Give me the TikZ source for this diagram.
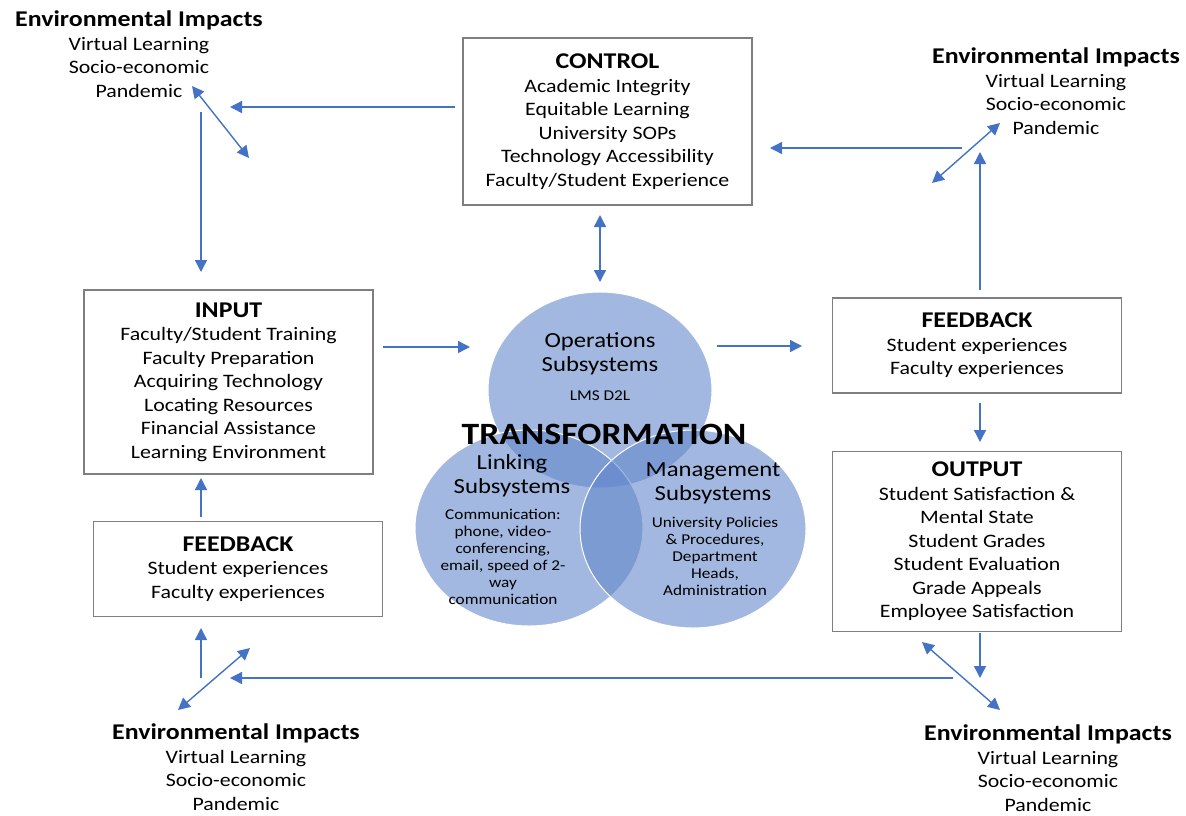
\documentclass[tikz,border=0pt]{standalone}
\usepackage{fontspec}
\setmainfont{Carlito}[FakeStretch=1.15]
\usepackage{tikz}
\usetikzlibrary{shapes, arrows.meta, positioning, calc}
\definecolor{flowblue}{RGB}{68,114,196}
\definecolor{boxgray}{RGB}{127,127,127}
\definecolor{subfill}{RGB}{96,133,202}
\newcommand{\heading}[1]{{\fontsize{22.5}{25}\selectfont\bfseries #1}}
\tikzstyle{block} = [rectangle, draw=boxgray, line width=1.2pt, minimum width=289pt, align=center, font=\fontsize{19}{23.5}\selectfont]
\tikzstyle{impact} = [align=center, font=\fontsize{19}{23.5}\selectfont]
\tikzstyle{subsystem} = [ellipse, draw=white, line width=1pt, fill=subfill, fill opacity=0.58, minimum width=226pt, minimum height=196pt]
\tikzstyle{subtitle} = [align=center, font=\fontsize{21.5}{24}\selectfont]
\tikzstyle{subtext} = [align=center, font=\fontsize{15}{17}\selectfont]
\tikzstyle{arrow} = [draw=flowblue, line width=1.4pt, -{Triangle[length=12pt,width=12pt]}]
\tikzstyle{twoway} = [arrow, {Triangle[length=12pt,width=12pt]}-{Triangle[length=12pt,width=12pt]}]

\begin{document}
\begin{tikzpicture}[x=1pt, y=-1pt]
    \useasboundingbox (0,0) rectangle (1186,815);

    % Boxes
    \node (control) [block, minimum height=167pt] at (607.5,121.5) {\heading{CONTROL}\\ Academic Integrity\\ Equitable Learning\\ University SOPs\\ Technology Accessibility\\ Faculty/Student Experience};
    \node (input) [block, minimum height=184pt] at (228.5,382) {\heading{INPUT}\\ Faculty/Student Training\\ Faculty Preparation\\ Acquiring Technology\\ Locating Resources\\ Financial Assistance\\ Learning Environment};
    \node (fbleft) [block, minimum height=95pt, below=46pt of input, xshift=9.5pt] {\heading{FEEDBACK}\\ Student experiences\\ Faculty experiences};
    \node (fbright) [block, minimum height=95pt] at (977,345.5) {\heading{FEEDBACK}\\ Student experiences\\ Faculty experiences};
    \node (output) [block, minimum height=180pt, below=57pt of fbright] {\heading{OUTPUT}\\ Student Satisfaction \&\\ Mental State\\ Student Grades\\ Student Evaluation\\ Grade Appeals\\ Employee Satisfaction};

    % Environmental impacts
    \node (envtl) [impact] at (139,54) {\heading{Environmental Impacts}\\ Virtual Learning\\ Socio-economic\\ Pandemic};
    \node (envtr) [impact] at (1056,91) {\heading{Environmental Impacts}\\ Virtual Learning\\ Socio-economic\\ Pandemic};
    \node (envbl) [impact] at (236,767) {\heading{Environmental Impacts}\\ Virtual Learning\\ Socio-economic\\ Pandemic};
    \node (envbr) [impact] at (1048,768) {\heading{Environmental Impacts}\\ Virtual Learning\\ Socio-economic\\ Pandemic};

    % Transformation subsystems
    \node (ops) [subsystem, minimum width=224pt] at (600,390) {};
    \node (link) [subsystem, minimum width=228pt] at (529,528) {};
    \node (mgmt) [subsystem, minimum height=198pt] at (693,529) {};

    \node (opstitle) [subtitle] at (600,354) {Operations\\ Subsystems};
    \node (opstext) [subtext] at (600,396) {LMS D2L};
    \node (linktitle) [subtitle] at (512,476) {Linking\\ Subsystems};
    \node (linktext) [subtext] at (503,556.5) {Communication:\\ phone, video-\\ conferencing,\\ email, speed of 2-\\ way\\ communication};
    \node (mgmttitle) [subtitle] at (713,483) {Management\\ Subsystems};
    \node (mgmttext) [subtext] at (715,556) {University Policies\\ \& Procedures,\\ Department\\ Heads,\\ Administration};
    \node (transform) [font=\fontsize{31}{33}\selectfont\bfseries] at (604,434) {TRANSFORMATION};

    % Arrow ends
    \coordinate (tlin) at (230,107);
    \coordinate (ctrlout) at (455,107);
    \coordinate (tlup) at (192,86);
    \coordinate (tldown) at (249,158);
    \coordinate (tlfrom) at (201,112);
    \coordinate (inputin) at (201,272);
    \coordinate (ctrlbot) at (600,215);
    \coordinate (opstop) at (600,282);
    \coordinate (inputout) at (383,347);
    \coordinate (opsin) at (470,347);
    \coordinate (opsout) at (717,346);
    \coordinate (fbrin) at (802,346);
    \coordinate (fbrout) at (980,290);
    \coordinate (trin) at (980,152);
    \coordinate (trout) at (962,148);
    \coordinate (ctrlin) at (770,148);
    \coordinate (trdown) at (932,183);
    \coordinate (trup) at (1000,123);
    \coordinate (fbrbot) at (980,403);
    \coordinate (outtop) at (980,442);
    \coordinate (outbot) at (980,633);
    \coordinate (brin) at (980,678);
    \coordinate (brup) at (922,642);
    \coordinate (brdown) at (1000,710);
    \coordinate (brout) at (953,678);
    \coordinate (blin) at (230,678);
    \coordinate (bldown) at (178,710);
    \coordinate (blup) at (250,648);
    \coordinate (blfrom) at (201,678);
    \coordinate (fblbot) at (201,628);
    \coordinate (fbltop) at (201,517);
    \coordinate (inputbot) at (201,478);

    \draw [arrow] (ctrlout) -- (tlin);
    \draw [twoway] (tlup) -- (tldown);
    \draw [arrow] (tlfrom) -- (inputin);
    \draw [twoway] (ctrlbot) -- (opstop);
    \draw [arrow] (inputout) -- (opsin);
    \draw [arrow] (opsout) -- (fbrin);
    \draw [arrow] (fbrout) -- (trin);
    \draw [arrow] (trout) -- (ctrlin);
    \draw [twoway] (trdown) -- (trup);
    \draw [arrow] (fbrbot) -- (outtop);
    \draw [arrow] (outbot) -- (brin);
    \draw [twoway] (brup) -- (brdown);
    \draw [arrow] (brout) -- (blin);
    \draw [twoway] (bldown) -- (blup);
    \draw [arrow] (blfrom) -- (fblbot);
    \draw [arrow] (fbltop) -- (inputbot);
\end{tikzpicture}
\end{document}
